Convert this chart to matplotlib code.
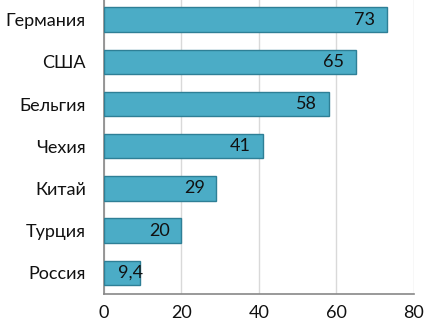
import matplotlib
matplotlib.use("Agg")
import matplotlib.pyplot as plt

countries = ["Германия", "США", "Бельгия", "Чехия", "Китай", "Турция", "Россия"]
values = [73, 65, 58, 41, 29, 20, 9.4]
value_labels = ["73", "65", "58", "41", "29", "20", "9,4"]
xticks = [0, 20, 40, 60, 80]

plt.rcParams['font.family'] = ['Lato', 'DejaVu Sans']

fig = plt.figure(figsize=(4.24, 3.24), dpi=100)
ax = fig.add_axes([0.245, 0.0926, 0.731, 0.912])

ypos = list(range(len(countries)))
bars = ax.barh(ypos, values, height=0.58, color="#4BACC6", edgecolor="#2E7F96", linewidth=1.0, zorder=3)
ax.set_ylim(len(countries) - 0.5, -0.5)
ax.set_xlim(0, 80)
ax.set_xticks(xticks)
ax.set_xticklabels([str(t) for t in xticks])
ax.set_yticks(ypos)
ax.set_yticklabels(countries)

for b, lab in zip(bars, value_labels):
    ax.text(max(b.get_width() - 3.0, 10.2), b.get_y() + b.get_height() / 2, lab,
            ha="right", va="center", fontsize=13, color="#111111", zorder=4)

ax.grid(axis="x", color="#D9D9D9", linewidth=1.0, zorder=0)
for s in ["top", "right"]:
    ax.spines[s].set_visible(False)
ax.spines["left"].set_color("#888888")
ax.spines["bottom"].set_color("#888888")
ax.spines["left"].set_linewidth(1.2)
ax.spines["bottom"].set_linewidth(1.2)
ax.tick_params(axis="y", length=0, pad=13, labelsize=13, labelcolor="#111111")
ax.tick_params(axis="x", length=0, pad=8, labelsize=13, labelcolor="#111111")

fig.savefig("out.png", dpi=100)
